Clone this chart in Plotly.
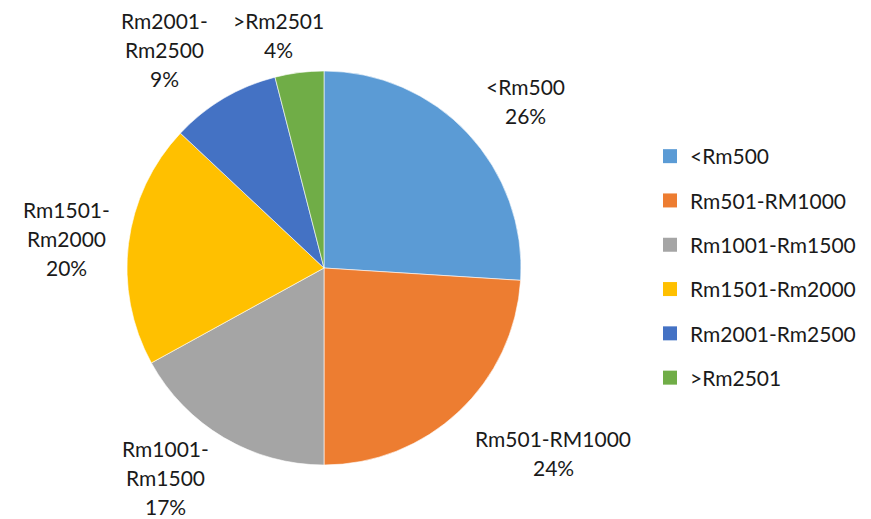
import plotly.graph_objects as go

categories = ['<Rm500', 'Rm501-RM1000', 'Rm1001-Rm1500', 'Rm1501-Rm2000', 'Rm2001-Rm2500', '>Rm2501']
values = [26, 24, 17, 20, 9, 4]
colors = ['#5B9BD5', '#ED7D31', '#A5A5A5', '#FFC000', '#4472C4', '#70AD47']

# label centres in pixels (outside the pie, like Excel's best-fit)
label_px = [(525, 101), (553, 453), (165, 477), (66, 238), (164, 50), (278, 35)]
# how each label wraps
label_lines = [
    ['<Rm500'],
    ['Rm501-RM1000'],
    ['Rm1001-', 'Rm1500'],
    ['Rm1501-', 'Rm2000'],
    ['Rm2001-', 'Rm2500'],
    ['>Rm2501'],
]

W, H = 871, 519
OFF = 8  # page body margin
FONT = 'Lato'
FS = 21
LINE = 29


def fx(p):
    return (p - OFF) / W


def fy(p):
    return 1 - (p - OFF) / H


fig = go.Figure()
fig.add_trace(go.Pie(
    labels=categories,
    values=values,
    sort=False,
    direction='clockwise',
    rotation=0,
    marker=dict(colors=colors, line=dict(color='white', width=0.6)),
    textinfo='none',
    hoverinfo='label+percent',
    showlegend=False,
    domain=dict(x=[fx(127), fx(521)], y=[fy(465), fy(71)]),
))

# legend built from empty traces so the entries can be spaced apart
for i, (cat, col) in enumerate(zip(categories, colors)):
    fig.add_trace(go.Scatter(
        x=[None], y=[None], mode='markers', name=cat,
        marker=dict(symbol='square', size=14, color=col),
        legendgroup=f'g{i}', showlegend=True,
    ))

total = sum(values)
annotations = []
for (px_, py_), lines, v in zip(label_px, label_lines, values):
    lines = lines + [f'{round(v / total * 100)}%']
    n = len(lines)
    for j, t in enumerate(lines):
        annotations.append(dict(
            x=fx(px_), y=fy(py_), xref='paper', yref='paper',
            text=t.replace('<', '&lt;').replace('>', '&gt;'),
            showarrow=False, xanchor='center', yanchor='middle',
            yshift=((n - 1) / 2 - j) * LINE, borderpad=0,
            font=dict(family=FONT, size=FS, color='#1a1a1a'),
        ))

fig.update_layout(
    width=W, height=H,
    margin=dict(l=0, r=0, t=0, b=0),
    paper_bgcolor='white', plot_bgcolor='white',
    xaxis=dict(visible=False), yaxis=dict(visible=False),
    annotations=annotations,
    legend=dict(
        x=(642 - OFF) / W + OFF / W, y=1 - 128 / H, xanchor='left', yanchor='top',
        font=dict(family=FONT, size=FS, color='#1a1a1a'),
        tracegroupgap=14, itemclick=False, itemdoubleclick=False,
    ),
)

fig.write_html('out.html')
